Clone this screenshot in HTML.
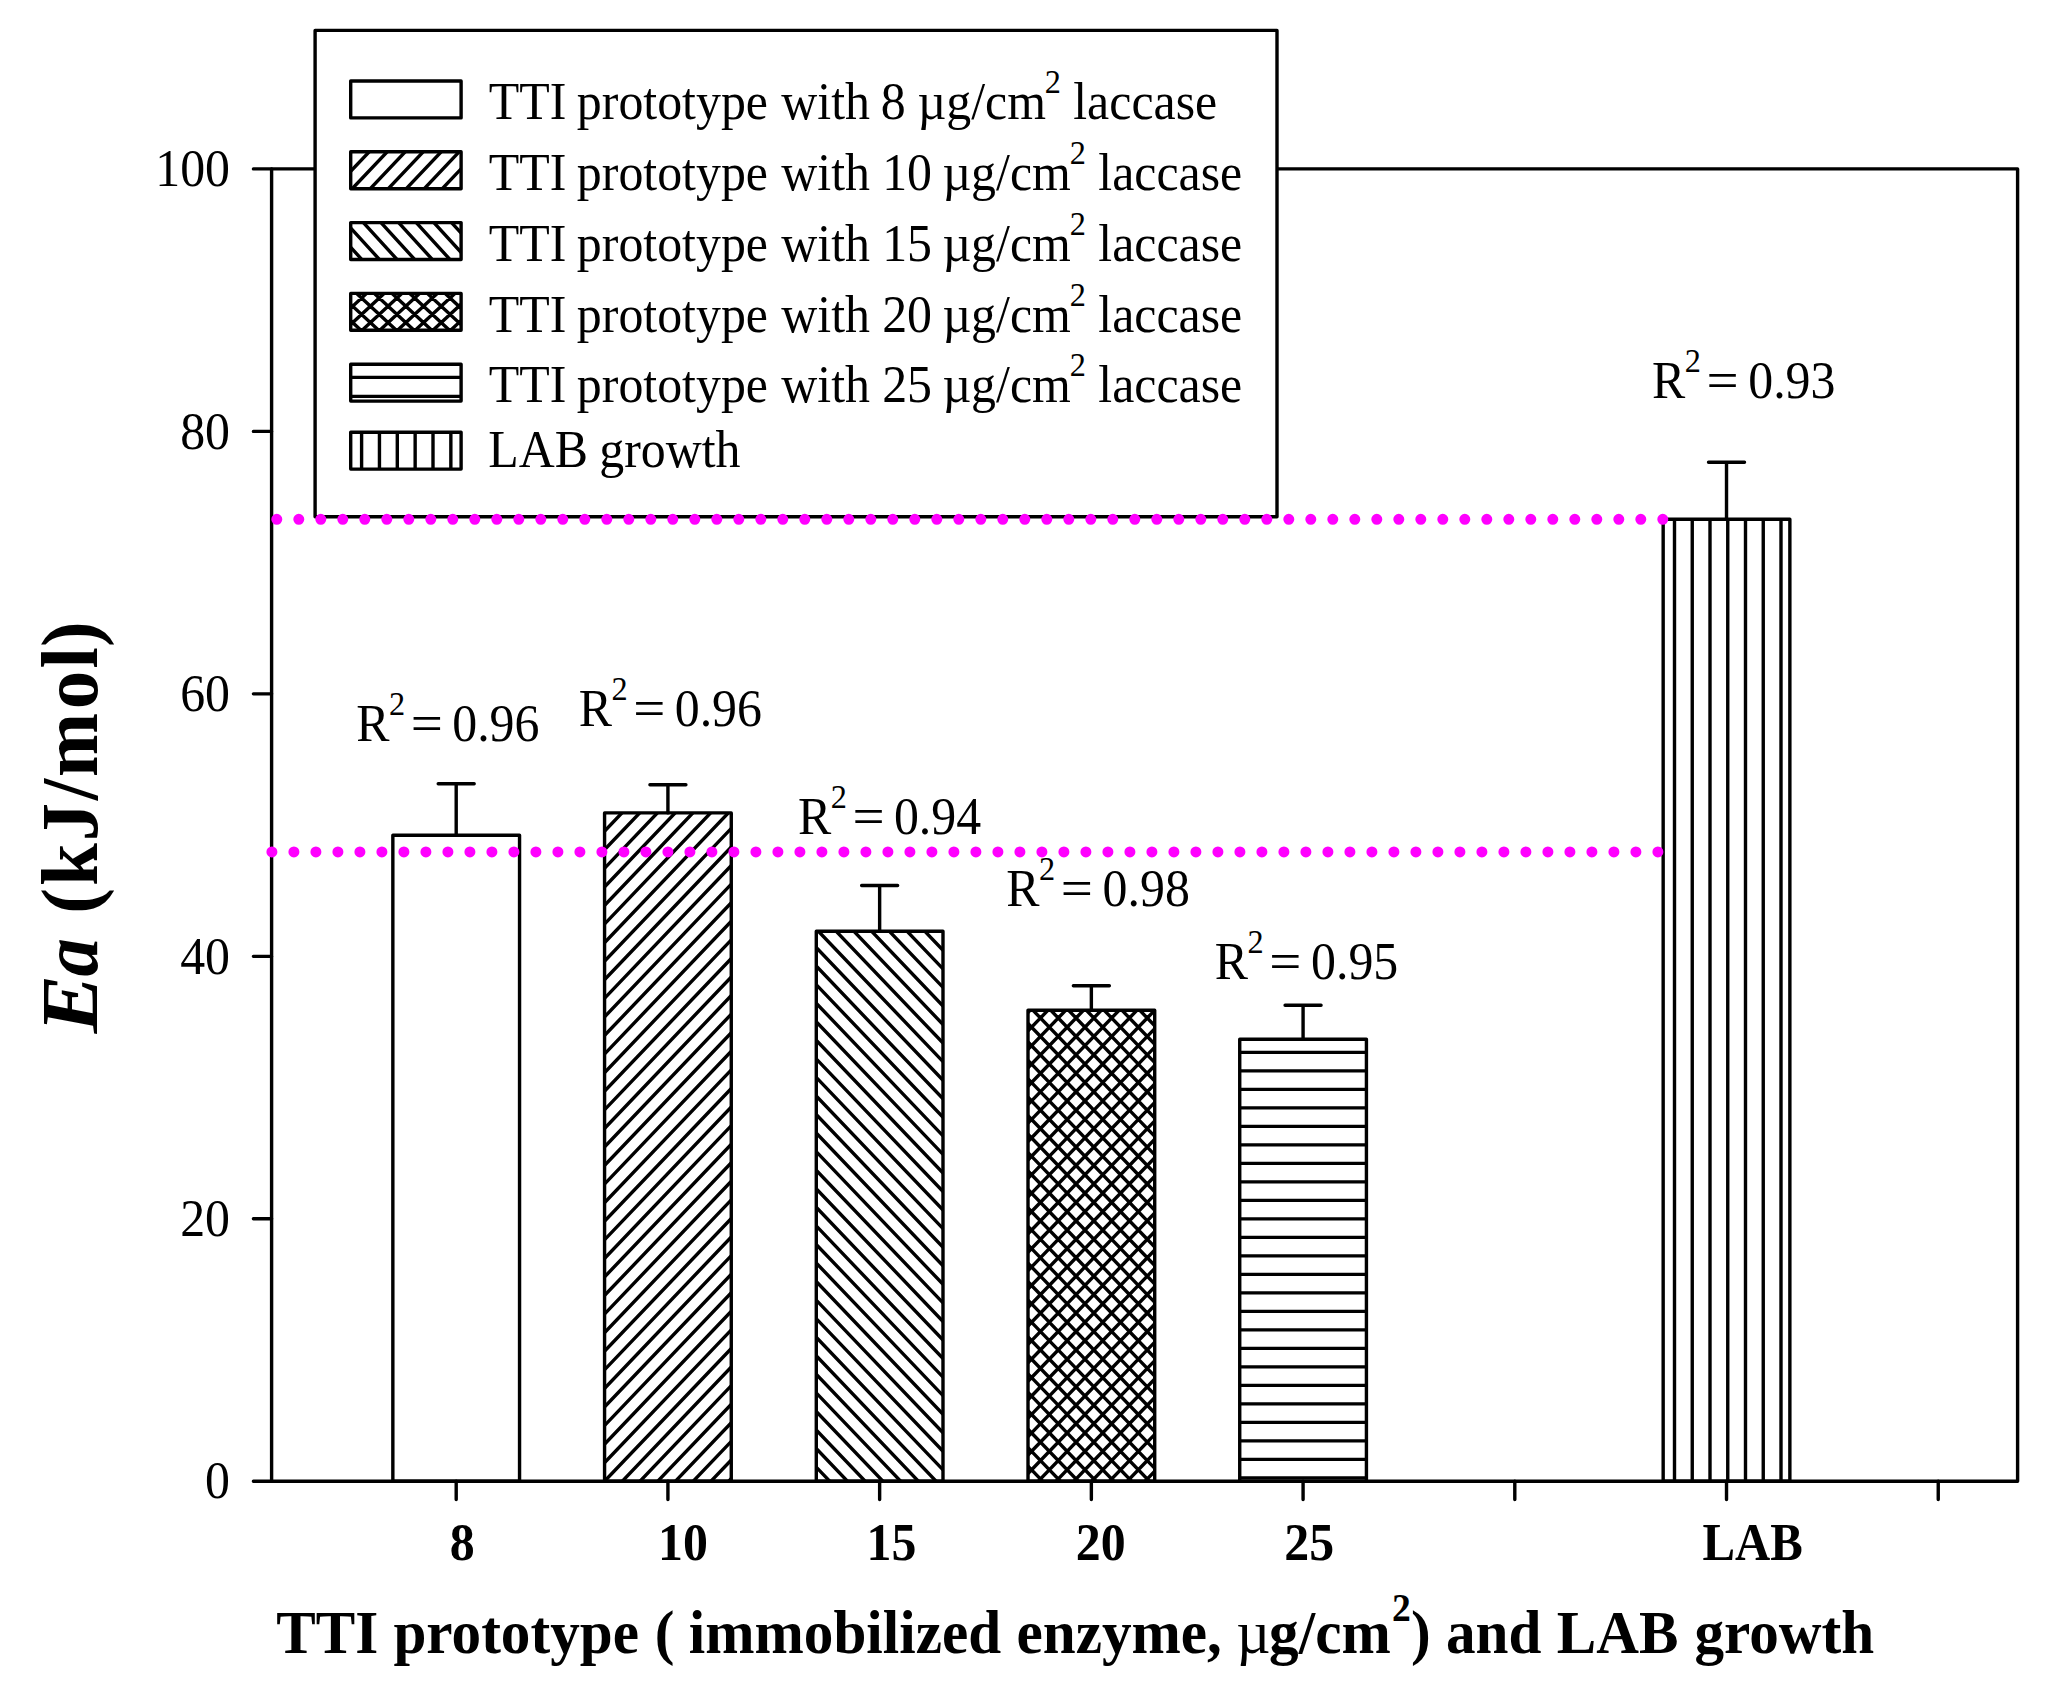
<!DOCTYPE html>
<html lang="en"><head><meta charset="utf-8"><title>Ea of TTI prototypes and LAB growth</title>
<style>html,body{margin:0;padding:0;background:#fff;}svg{display:block;}text{font-family:"Liberation Serif",serif;fill:#000;}.b{font-weight:bold;}.bi{font-weight:bold;font-style:italic;}.ln{stroke:#000;stroke-width:3.4;fill:none;stroke-linecap:round;stroke-linejoin:round;}.bar{stroke:#000;stroke-width:3.4;stroke-linejoin:round;}.h{stroke:#000;stroke-width:3.4;fill:none;stroke-linecap:butt;}</style></head><body>
<svg width="2052" height="1688" viewBox="0 0 2052 1688">
<rect x="0" y="0" width="2052" height="1688" fill="#fff"/>
<g id="bars">
<clipPath id="c1"><rect x="392.85" y="835.3" width="126.7" height="646"/></clipPath>
<rect x="392.85" y="835.3" width="126.7" height="646" fill="#fff" stroke="none"/>
<rect class="bar" x="392.85" y="835.3" width="126.7" height="646" fill="none"/>
<path class="ln" d="M456.2 835.3V783.8M438.2 783.8H474.2"/>
<clipPath id="c2"><rect x="604.57" y="812.9" width="126.7" height="668.4"/></clipPath>
<rect x="604.57" y="812.9" width="126.7" height="668.4" fill="#fff" stroke="none"/>
<path class="h" clip-path="url(#c2)" d="M-56.28 1486.3L591.29 807.9M-38.55 1486.3L609.02 807.9M-20.82 1486.3L626.75 807.9M-3.09 1486.3L644.48 807.9M14.64 1486.3L662.21 807.9M32.37 1486.3L679.94 807.9M50.1 1486.3L697.67 807.9M67.83 1486.3L715.4 807.9M85.56 1486.3L733.13 807.9M103.29 1486.3L750.86 807.9M121.02 1486.3L768.59 807.9M138.75 1486.3L786.32 807.9M156.48 1486.3L804.05 807.9M174.21 1486.3L821.78 807.9M191.94 1486.3L839.51 807.9M209.67 1486.3L857.24 807.9M227.4 1486.3L874.97 807.9M245.13 1486.3L892.7 807.9M262.86 1486.3L910.43 807.9M280.59 1486.3L928.16 807.9M298.32 1486.3L945.89 807.9M316.05 1486.3L963.62 807.9M333.78 1486.3L981.35 807.9M351.51 1486.3L999.08 807.9M369.24 1486.3L1016.81 807.9M386.97 1486.3L1034.54 807.9M404.7 1486.3L1052.27 807.9M422.43 1486.3L1070 807.9M440.16 1486.3L1087.73 807.9M457.89 1486.3L1105.46 807.9M475.62 1486.3L1123.19 807.9M493.35 1486.3L1140.92 807.9M511.08 1486.3L1158.65 807.9M528.81 1486.3L1176.38 807.9M546.54 1486.3L1194.11 807.9M564.27 1486.3L1211.84 807.9M582 1486.3L1229.57 807.9M599.73 1486.3L1247.3 807.9M617.46 1486.3L1265.03 807.9M635.19 1486.3L1282.76 807.9M652.92 1486.3L1300.49 807.9M670.65 1486.3L1318.22 807.9M688.38 1486.3L1335.95 807.9M706.11 1486.3L1353.68 807.9M723.84 1486.3L1371.41 807.9M741.57 1486.3L1389.14 807.9M759.3 1486.3L1406.87 807.9"/>
<rect class="bar" x="604.57" y="812.9" width="126.7" height="668.4" fill="none"/>
<path class="ln" d="M667.92 812.9V784.8M649.92 784.8H685.92"/>
<clipPath id="c3"><rect x="816.29" y="931.3" width="126.7" height="550"/></clipPath>
<rect x="816.29" y="931.3" width="126.7" height="550" fill="#fff" stroke="none"/>
<path class="h" clip-path="url(#c3)" d="M264.07 926.3L799.12 1486.3M281.8 926.3L816.85 1486.3M299.53 926.3L834.58 1486.3M317.26 926.3L852.31 1486.3M334.99 926.3L870.04 1486.3M352.72 926.3L887.77 1486.3M370.45 926.3L905.5 1486.3M388.18 926.3L923.23 1486.3M405.91 926.3L940.96 1486.3M423.64 926.3L958.69 1486.3M441.37 926.3L976.42 1486.3M459.1 926.3L994.15 1486.3M476.83 926.3L1011.88 1486.3M494.56 926.3L1029.61 1486.3M512.29 926.3L1047.34 1486.3M530.02 926.3L1065.07 1486.3M547.75 926.3L1082.8 1486.3M565.48 926.3L1100.53 1486.3M583.21 926.3L1118.26 1486.3M600.94 926.3L1135.99 1486.3M618.67 926.3L1153.72 1486.3M636.4 926.3L1171.45 1486.3M654.13 926.3L1189.18 1486.3M671.86 926.3L1206.91 1486.3M689.59 926.3L1224.64 1486.3M707.32 926.3L1242.37 1486.3M725.05 926.3L1260.1 1486.3M742.78 926.3L1277.83 1486.3M760.51 926.3L1295.56 1486.3M778.24 926.3L1313.29 1486.3M795.97 926.3L1331.02 1486.3M813.7 926.3L1348.75 1486.3M831.43 926.3L1366.48 1486.3M849.16 926.3L1384.21 1486.3M866.89 926.3L1401.94 1486.3M884.62 926.3L1419.67 1486.3M902.35 926.3L1437.4 1486.3M920.08 926.3L1455.13 1486.3M937.81 926.3L1472.86 1486.3M955.54 926.3L1490.59 1486.3M973.27 926.3L1508.32 1486.3"/>
<rect class="bar" x="816.29" y="931.3" width="126.7" height="550" fill="none"/>
<path class="ln" d="M879.64 931.3V885.5M861.64 885.5H897.64"/>
<clipPath id="c4"><rect x="1028.01" y="1010.2" width="126.7" height="471.1"/></clipPath>
<rect x="1028.01" y="1010.2" width="126.7" height="471.1" fill="#fff" stroke="none"/>
<path class="h" clip-path="url(#c4)" d="M535 1486.3L999.41 1005.2M552.8 1486.3L1017.21 1005.2M570.6 1486.3L1035.01 1005.2M588.4 1486.3L1052.81 1005.2M606.2 1486.3L1070.61 1005.2M624 1486.3L1088.41 1005.2M641.8 1486.3L1106.21 1005.2M659.6 1486.3L1124.01 1005.2M677.4 1486.3L1141.81 1005.2M695.2 1486.3L1159.61 1005.2M713 1486.3L1177.41 1005.2M730.8 1486.3L1195.21 1005.2M748.6 1486.3L1213.01 1005.2M766.4 1486.3L1230.81 1005.2M784.2 1486.3L1248.61 1005.2M802 1486.3L1266.41 1005.2M819.8 1486.3L1284.21 1005.2M837.6 1486.3L1302.01 1005.2M855.4 1486.3L1319.81 1005.2M873.2 1486.3L1337.61 1005.2M891 1486.3L1355.41 1005.2M908.8 1486.3L1373.21 1005.2M926.6 1486.3L1391.01 1005.2M944.4 1486.3L1408.81 1005.2M962.2 1486.3L1426.61 1005.2M980 1486.3L1444.41 1005.2M997.8 1486.3L1462.21 1005.2M1015.6 1486.3L1480.01 1005.2M1033.4 1486.3L1497.81 1005.2M1051.2 1486.3L1515.61 1005.2M1069 1486.3L1533.41 1005.2M1086.8 1486.3L1551.21 1005.2M1104.6 1486.3L1569.01 1005.2M1122.4 1486.3L1586.81 1005.2M1140.2 1486.3L1604.61 1005.2M1158 1486.3L1622.41 1005.2M1175.8 1486.3L1640.21 1005.2M547.49 1005.2L1011.9 1486.3M565.29 1005.2L1029.7 1486.3M583.09 1005.2L1047.5 1486.3M600.89 1005.2L1065.3 1486.3M618.69 1005.2L1083.1 1486.3M636.49 1005.2L1100.9 1486.3M654.29 1005.2L1118.7 1486.3M672.09 1005.2L1136.5 1486.3M689.89 1005.2L1154.3 1486.3M707.69 1005.2L1172.1 1486.3M725.49 1005.2L1189.9 1486.3M743.29 1005.2L1207.7 1486.3M761.09 1005.2L1225.5 1486.3M778.89 1005.2L1243.3 1486.3M796.69 1005.2L1261.1 1486.3M814.49 1005.2L1278.9 1486.3M832.29 1005.2L1296.7 1486.3M850.09 1005.2L1314.5 1486.3M867.89 1005.2L1332.3 1486.3M885.69 1005.2L1350.1 1486.3M903.49 1005.2L1367.9 1486.3M921.29 1005.2L1385.7 1486.3M939.09 1005.2L1403.5 1486.3M956.89 1005.2L1421.3 1486.3M974.69 1005.2L1439.1 1486.3M992.49 1005.2L1456.9 1486.3M1010.29 1005.2L1474.7 1486.3M1028.09 1005.2L1492.5 1486.3M1045.89 1005.2L1510.3 1486.3M1063.69 1005.2L1528.1 1486.3M1081.49 1005.2L1545.9 1486.3M1099.29 1005.2L1563.7 1486.3M1117.09 1005.2L1581.5 1486.3M1134.89 1005.2L1599.3 1486.3M1152.69 1005.2L1617.1 1486.3M1170.49 1005.2L1634.9 1486.3"/>
<rect class="bar" x="1028.01" y="1010.2" width="126.7" height="471.1" fill="none"/>
<path class="ln" d="M1091.36 1010.2V985.8M1073.36 985.8H1109.36"/>
<clipPath id="c5"><rect x="1239.73" y="1039.3" width="126.7" height="442"/></clipPath>
<rect x="1239.73" y="1039.3" width="126.7" height="442" fill="#fff" stroke="none"/>
<path class="h" clip-path="url(#c5)" d="M1239.73 1052.4L1366.43 1052.4M1239.73 1070.9L1366.43 1070.9M1239.73 1089.4L1366.43 1089.4M1239.73 1107.9L1366.43 1107.9M1239.73 1126.4L1366.43 1126.4M1239.73 1144.9L1366.43 1144.9M1239.73 1163.4L1366.43 1163.4M1239.73 1181.9L1366.43 1181.9M1239.73 1200.4L1366.43 1200.4M1239.73 1218.9L1366.43 1218.9M1239.73 1237.4L1366.43 1237.4M1239.73 1255.9L1366.43 1255.9M1239.73 1274.4L1366.43 1274.4M1239.73 1292.9L1366.43 1292.9M1239.73 1311.4L1366.43 1311.4M1239.73 1329.9L1366.43 1329.9M1239.73 1348.4L1366.43 1348.4M1239.73 1366.9L1366.43 1366.9M1239.73 1385.4L1366.43 1385.4M1239.73 1403.9L1366.43 1403.9M1239.73 1422.4L1366.43 1422.4M1239.73 1440.9L1366.43 1440.9M1239.73 1459.4L1366.43 1459.4M1239.73 1477.9L1366.43 1477.9"/>
<rect class="bar" x="1239.73" y="1039.3" width="126.7" height="442" fill="none"/>
<path class="ln" d="M1303.08 1039.3V1005.3M1285.08 1005.3H1321.08"/>
<clipPath id="c6"><rect x="1663.17" y="519.2" width="126.7" height="962.1"/></clipPath>
<rect x="1663.17" y="519.2" width="126.7" height="962.1" fill="#fff" stroke="none"/>
<path class="h" clip-path="url(#c6)" d="M1674.5 519.2L1674.5 1481.3M1692.25 519.2L1692.25 1481.3M1710 519.2L1710 1481.3M1727.75 519.2L1727.75 1481.3M1745.5 519.2L1745.5 1481.3M1763.25 519.2L1763.25 1481.3M1781 519.2L1781 1481.3"/>
<rect class="bar" x="1663.17" y="519.2" width="126.7" height="962.1" fill="none"/>
<path class="ln" d="M1726.52 519.2V462.2M1708.52 462.2H1744.52"/>
</g>
<g id="axes">
<rect class="ln" x="271.6" y="168.9" width="1746" height="1312.4"/>
<path class="ln" d="M253.4 1481.3H271.6M253.4 1218.82H271.6M253.4 956.34H271.6M253.4 693.86H271.6M253.4 431.38H271.6M253.4 168.9H271.6M456.2 1481.3V1499.5M667.92 1481.3V1499.5M879.64 1481.3V1499.5M1091.36 1481.3V1499.5M1303.08 1481.3V1499.5M1514.8 1481.3V1499.5M1726.52 1481.3V1499.5M1938.24 1481.3V1499.5"/>
</g>
<g id="legend">
<rect class="bar" x="315.1" y="30.4" width="961.9" height="486.3" fill="#fff"/>
<clipPath id="c7"><rect x="350.7" y="81" width="110.4" height="36.9"/></clipPath>
<rect x="350.7" y="81" width="110.4" height="36.9" fill="#fff" stroke="none"/>
<rect class="bar" x="350.7" y="81" width="110.4" height="36.9" fill="none"/>
<clipPath id="c8"><rect x="350.7" y="151.8" width="110.4" height="36.9"/></clipPath>
<rect x="350.7" y="151.8" width="110.4" height="36.9" fill="#fff" stroke="none"/>
<path class="h" clip-path="url(#c8)" d="M275.52 193.7L319.95 146.8M293.52 193.7L337.95 146.8M311.52 193.7L355.95 146.8M329.52 193.7L373.95 146.8M347.52 193.7L391.95 146.8M365.52 193.7L409.95 146.8M383.52 193.7L427.95 146.8M401.52 193.7L445.95 146.8M419.52 193.7L463.95 146.8M437.52 193.7L481.95 146.8M455.52 193.7L499.95 146.8M473.52 193.7L517.95 146.8M491.52 193.7L535.95 146.8"/>
<rect class="bar" x="350.7" y="151.8" width="110.4" height="36.9" fill="none"/>
<clipPath id="c9"><rect x="350.7" y="222.6" width="110.4" height="36.9"/></clipPath>
<rect x="350.7" y="222.6" width="110.4" height="36.9" fill="#fff" stroke="none"/>
<path class="h" clip-path="url(#c9)" d="M288.29 217.6L331.13 264.5M305.92 217.6L348.76 264.5M323.55 217.6L366.39 264.5M341.18 217.6L384.02 264.5M358.81 217.6L401.65 264.5M376.44 217.6L419.28 264.5M394.07 217.6L436.91 264.5M411.7 217.6L454.54 264.5M429.33 217.6L472.17 264.5M446.96 217.6L489.8 264.5M464.59 217.6L507.43 264.5M482.22 217.6L525.06 264.5"/>
<rect class="bar" x="350.7" y="222.6" width="110.4" height="36.9" fill="none"/>
<clipPath id="c10"><rect x="350.7" y="293.4" width="110.4" height="36.9"/></clipPath>
<rect x="350.7" y="293.4" width="110.4" height="36.9" fill="#fff" stroke="none"/>
<path class="h" clip-path="url(#c10)" d="M285.89 335.3L336.51 288.4M303.59 335.3L354.21 288.4M321.29 335.3L371.91 288.4M338.99 335.3L389.61 288.4M356.69 335.3L407.31 288.4M374.39 335.3L425.01 288.4M392.09 335.3L442.71 288.4M409.79 335.3L460.41 288.4M427.49 335.3L478.11 288.4M445.19 335.3L495.81 288.4M462.89 335.3L513.51 288.4M480.59 335.3L531.21 288.4M280.39 288.4L331.01 335.3M298.09 288.4L348.71 335.3M315.79 288.4L366.41 335.3M333.49 288.4L384.11 335.3M351.19 288.4L401.81 335.3M368.89 288.4L419.51 335.3M386.59 288.4L437.21 335.3M404.29 288.4L454.91 335.3M421.99 288.4L472.61 335.3M439.69 288.4L490.31 335.3M457.39 288.4L508.01 335.3M475.09 288.4L525.71 335.3"/>
<rect class="bar" x="350.7" y="293.4" width="110.4" height="36.9" fill="none"/>
<clipPath id="c11"><rect x="350.7" y="364.2" width="110.4" height="36.9"/></clipPath>
<rect x="350.7" y="364.2" width="110.4" height="36.9" fill="#fff" stroke="none"/>
<path class="h" clip-path="url(#c11)" d="M350.7 377.4L461.1 377.4M350.7 396.4L461.1 396.4"/>
<rect class="bar" x="350.7" y="364.2" width="110.4" height="36.9" fill="none"/>
<clipPath id="c12"><rect x="350.7" y="432.2" width="110.4" height="36.9"/></clipPath>
<rect x="350.7" y="432.2" width="110.4" height="36.9" fill="#fff" stroke="none"/>
<path class="h" clip-path="url(#c12)" d="M361.6 432.2L361.6 469.1M379.45 432.2L379.45 469.1M397.3 432.2L397.3 469.1M415.15 432.2L415.15 469.1M433 432.2L433 469.1M450.85 432.2L450.85 469.1"/>
<rect class="bar" x="350.7" y="432.2" width="110.4" height="36.9" fill="none"/>
</g>
<g id="dots" stroke="#ff00ff" stroke-width="11" stroke-linecap="round" fill="none" stroke-dasharray="0 22">
<path d="M276.8 519.3H1662.9"/>
<path d="M271.9 851.9H1658"/>
</g>
<g id="labels">
<text font-size="52.5" transform="scale(0.95 1)"><tspan x="514.53" y="119">TTI</tspan> <tspan x="607.25" y="119">prototype</tspan> <tspan x="822.49" y="119">with</tspan> <tspan x="927.14" y="119">8</tspan> <tspan x="965.89" y="119">µg/cm</tspan><tspan x="1099.87" y="93" font-size="34">2</tspan> <tspan x="1129.77" y="119">laccase</tspan></text>
<text font-size="52.5" transform="scale(0.95 1)"><tspan x="514.53" y="190">TTI</tspan> <tspan x="607.25" y="190">prototype</tspan> <tspan x="822.49" y="190">with</tspan> <tspan x="928.63" y="190">10</tspan> <tspan x="991.99" y="190">µg/cm</tspan><tspan x="1125.98" y="164" font-size="34">2</tspan> <tspan x="1156.09" y="190">laccase</tspan></text>
<text font-size="52.5" transform="scale(0.95 1)"><tspan x="514.53" y="260.8">TTI</tspan> <tspan x="607.25" y="260.8">prototype</tspan> <tspan x="822.49" y="260.8">with</tspan> <tspan x="928.63" y="260.8">15</tspan> <tspan x="991.99" y="260.8">µg/cm</tspan><tspan x="1125.98" y="234.8" font-size="34">2</tspan> <tspan x="1156.09" y="260.8">laccase</tspan></text>
<text font-size="52.5" transform="scale(0.95 1)"><tspan x="514.53" y="331.6">TTI</tspan> <tspan x="607.25" y="331.6">prototype</tspan> <tspan x="822.49" y="331.6">with</tspan> <tspan x="928.63" y="331.6">20</tspan> <tspan x="991.99" y="331.6">µg/cm</tspan><tspan x="1125.98" y="305.6" font-size="34">2</tspan> <tspan x="1156.09" y="331.6">laccase</tspan></text>
<text font-size="52.5" transform="scale(0.95 1)"><tspan x="514.53" y="402.4">TTI</tspan> <tspan x="607.25" y="402.4">prototype</tspan> <tspan x="822.49" y="402.4">with</tspan> <tspan x="928.63" y="402.4">25</tspan> <tspan x="991.99" y="402.4">µg/cm</tspan><tspan x="1125.98" y="376.4" font-size="34">2</tspan> <tspan x="1156.09" y="402.4">laccase</tspan></text>
<text font-size="52.5" transform="scale(0.95 1)"><tspan x="513.98" y="467.1">LAB</tspan> <tspan x="630.81" y="467.1">growth</tspan></text>
<text font-size="52.5" transform="scale(0.95 1)"><tspan x="163.42" y="186.1">100</tspan></text>
<text font-size="52.5" transform="scale(0.95 1)"><tspan x="189.67" y="448.58">80</tspan></text>
<text font-size="52.5" transform="scale(0.95 1)"><tspan x="189.67" y="711.06">60</tspan></text>
<text font-size="52.5" transform="scale(0.95 1)"><tspan x="189.67" y="973.54">40</tspan></text>
<text font-size="52.5" transform="scale(0.95 1)"><tspan x="189.67" y="1236.02">20</tspan></text>
<text font-size="52.5" transform="scale(0.95 1)"><tspan x="215.92" y="1498.5">0</tspan></text>
<text class="b" font-size="52.5" transform="scale(0.95 1)"><tspan x="473.51" y="1560.4">8</tspan></text>
<text class="b" font-size="52.5" transform="scale(0.95 1)"><tspan x="692.73" y="1560.4">10</tspan></text>
<text class="b" font-size="52.5" transform="scale(0.95 1)"><tspan x="912.1" y="1560.4">15</tspan></text>
<text class="b" font-size="52.5" transform="scale(0.95 1)"><tspan x="1132.38" y="1560.4">20</tspan></text>
<text class="b" font-size="52.5" transform="scale(0.95 1)"><tspan x="1351.91" y="1560.4">25</tspan></text>
<text class="b" font-size="52.5" transform="scale(0.95 1)"><tspan x="1792.14" y="1560.4" textLength="105.63" lengthAdjust="spacingAndGlyphs">LAB</tspan></text>
<text font-size="52.5" transform="scale(0.95 1)"><tspan x="375.06" y="740.8">R</tspan><tspan x="409.56" y="714.8" font-size="34">2</tspan> <tspan x="432.45" y="740.8" textLength="33.81" lengthAdjust="spacingAndGlyphs">=</tspan> <tspan x="476.02" y="740.8">0.96</tspan></text>
<text font-size="52.5" transform="scale(0.95 1)"><tspan x="609.27" y="726.2">R</tspan><tspan x="643.77" y="700.2" font-size="34">2</tspan> <tspan x="666.66" y="726.2" textLength="33.81" lengthAdjust="spacingAndGlyphs">=</tspan> <tspan x="710.23" y="726.2">0.96</tspan></text>
<text font-size="52.5" transform="scale(0.95 1)"><tspan x="840.01" y="834.2">R</tspan><tspan x="874.5" y="808.2" font-size="34">2</tspan> <tspan x="897.4" y="834.2" textLength="33.81" lengthAdjust="spacingAndGlyphs">=</tspan> <tspan x="940.97" y="834.2">0.94</tspan></text>
<text font-size="52.5" transform="scale(0.95 1)"><tspan x="1059.27" y="906.5">R</tspan><tspan x="1093.77" y="880.5" font-size="34">2</tspan> <tspan x="1116.66" y="906.5" textLength="33.81" lengthAdjust="spacingAndGlyphs">=</tspan> <tspan x="1160.64" y="906.5">0.98</tspan></text>
<text font-size="52.5" transform="scale(0.95 1)"><tspan x="1278.64" y="979.4">R</tspan><tspan x="1313.13" y="953.4" font-size="34">2</tspan> <tspan x="1336.03" y="979.4" textLength="33.81" lengthAdjust="spacingAndGlyphs">=</tspan> <tspan x="1380.01" y="979.4">0.95</tspan></text>
<text font-size="52.5" transform="scale(0.95 1)"><tspan x="1738.85" y="398">R</tspan><tspan x="1773.34" y="372" font-size="34">2</tspan> <tspan x="1796.24" y="398" textLength="33.81" lengthAdjust="spacingAndGlyphs">=</tspan> <tspan x="1840.22" y="398">0.93</tspan></text>
<text class="b" font-size="61.4" transform="scale(0.964 1)"><tspan x="286.59" y="1652.6">TTI</tspan> <tspan x="408.14" y="1652.6">prototype</tspan> <tspan x="679.28" y="1652.6">(</tspan> <tspan x="714.5" y="1652.6">immobilized</tspan> <tspan x="1054.45" y="1652.6">enzyme,</tspan> <tspan x="1282.36" y="1652.6" font-weight="normal">µ</tspan><tspan x="1316.52" y="1652.6">g/cm</tspan><tspan x="1443.88" y="1621" font-size="39">2</tspan><tspan x="1463.63" y="1652.6">)</tspan> <tspan x="1499.98" y="1652.6">and</tspan> <tspan x="1614.95" y="1652.6">LAB</tspan> <tspan x="1757.71" y="1652.6">growth</tspan></text>
</g>
<g id="ytitle" transform="translate(96.5 1034.8) rotate(-90)">
<text class="b" font-size="81" transform="scale(0.95 1)"><tspan class="bi" x="1.57" y="0" textLength="61.42" lengthAdjust="spacingAndGlyphs">E</tspan><tspan class="bi" x="61.44" y="0">a</tspan> <tspan x="127.55 156.69 203.7 246.87 271.25 342.64 385.71 408.34" y="0">(kJ/mol)</tspan></text>
</g>
</svg></body></html>
